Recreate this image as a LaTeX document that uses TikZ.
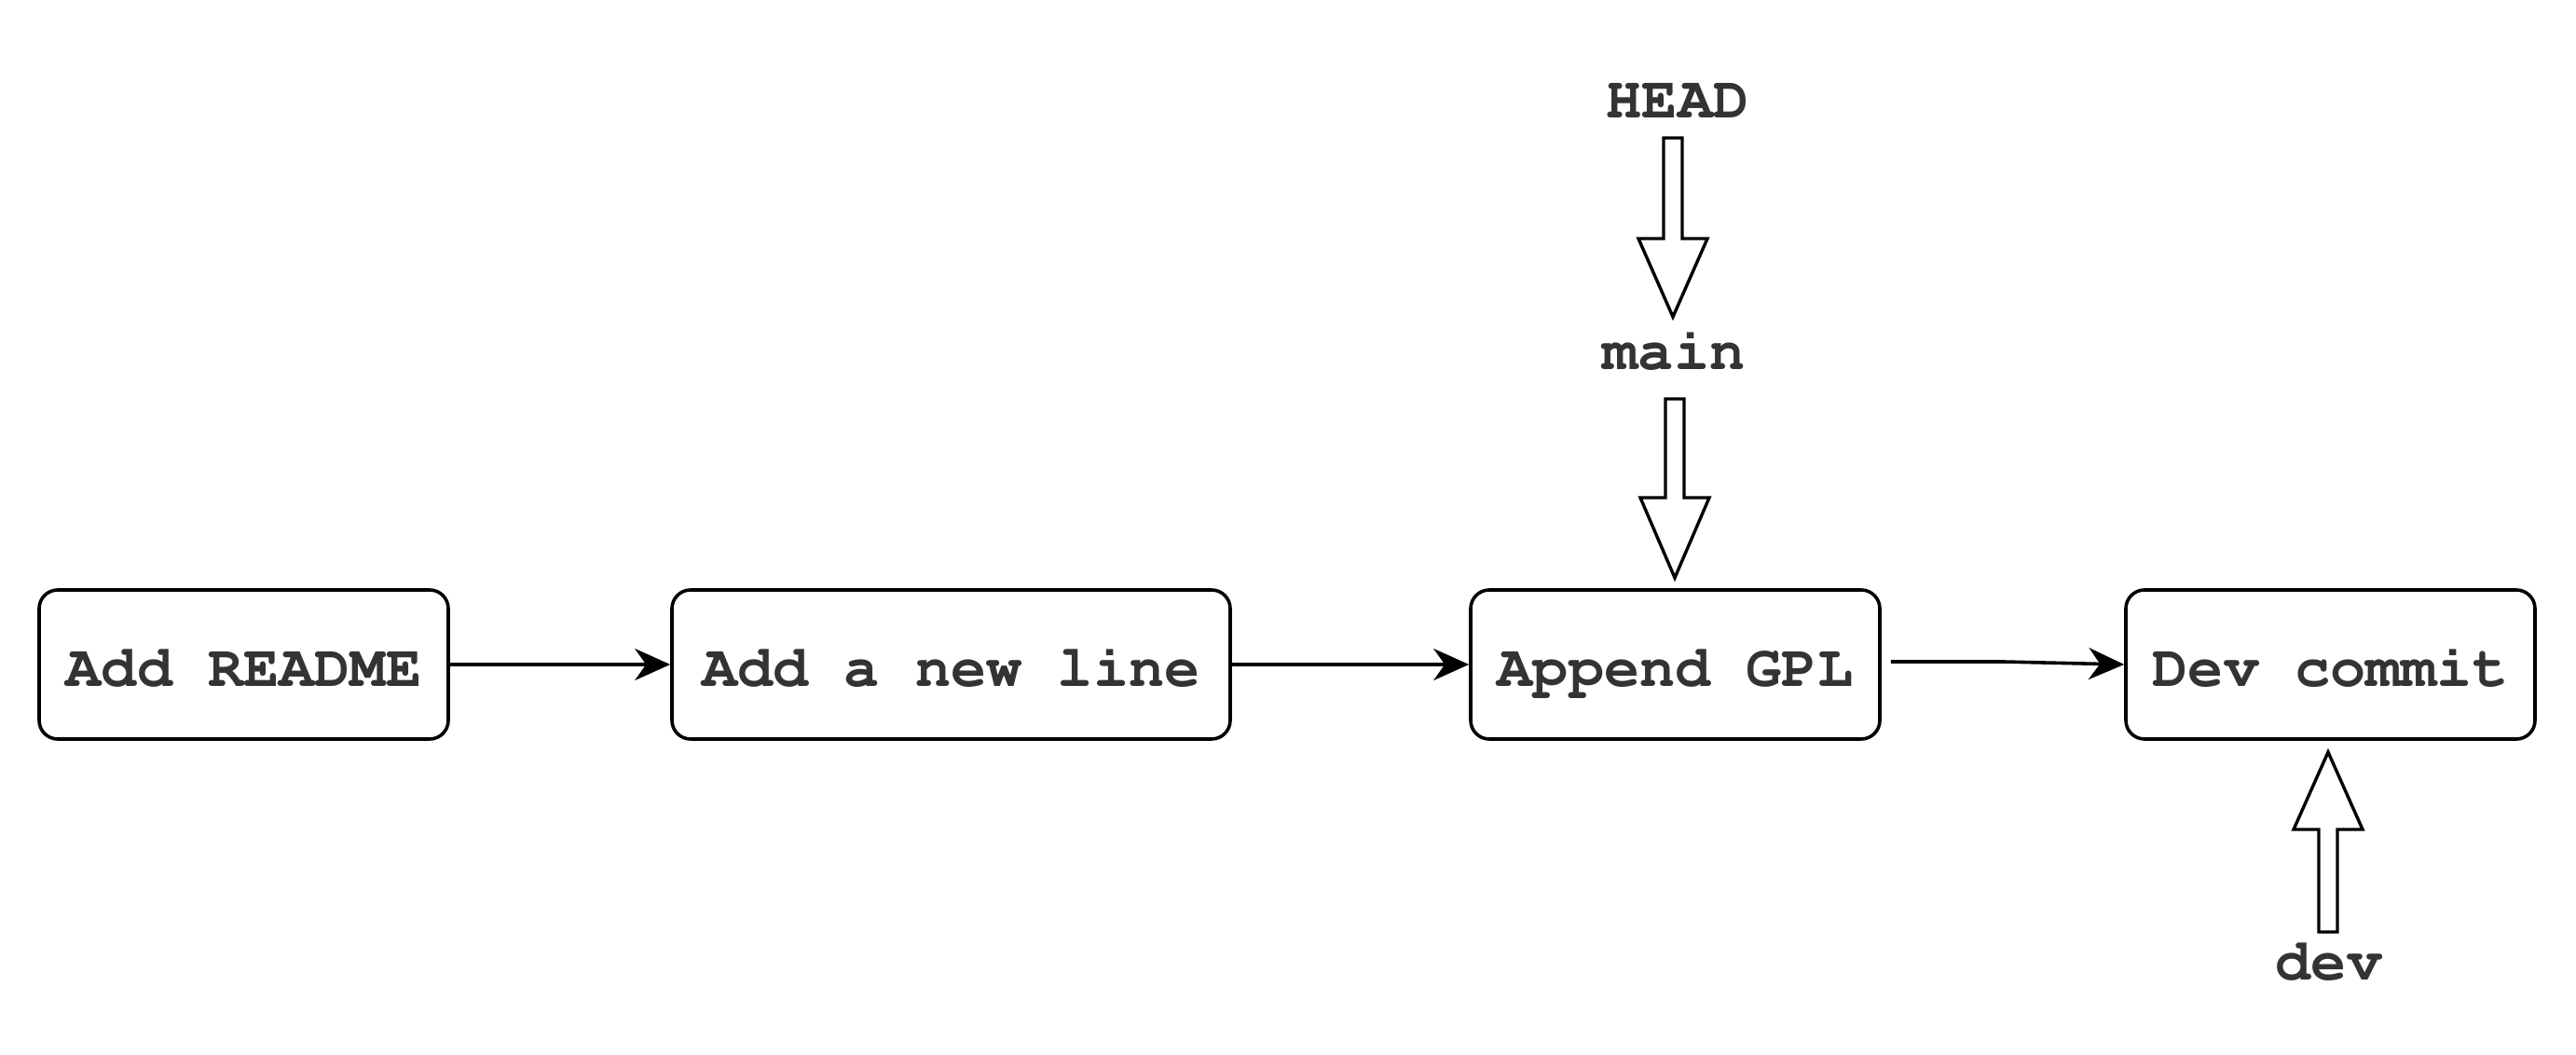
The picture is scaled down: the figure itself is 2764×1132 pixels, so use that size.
\documentclass[tikz,border=0pt]{standalone}
\usepackage[T1]{fontenc}
\usepackage{courier}
\usetikzlibrary{arrows.meta,calc}
\definecolor{txt}{HTML}{333333}
\begin{document}
\begin{tikzpicture}[x=0.25pt,y=-0.25pt,
  commit/.style={draw=black, line width=0.9pt, rounded corners=5pt,
    minimum height=40pt, inner sep=0pt, text=txt, text height=12pt, text depth=0pt,
    font=\ttfamily\bfseries\fontsize{15.9}{18}\selectfont},
  lbl/.style={inner sep=0pt, anchor=base, text=txt,
    font=\ttfamily\bfseries\fontsize{15.9}{18}\selectfont},
  link/.style={line width=0.9pt, -{Stealth[length=9.5pt,width=8.5pt,inset=3pt]}},
  blk/.style={draw=black, line width=0.85pt, fill=white, line join=miter}]
\useasboundingbox (0,0) rectangle (2764,1132);

% commits
\node[commit, minimum width=109.75pt] (c1) at (261.5,713) {Add README};
\node[commit, minimum width=149.75pt] (c2) at (1020.5,713) {Add a new line};
\node[commit, minimum width=109.75pt] (c3) at (1797.5,713) {Append GPL};
\node[commit, minimum width=109.75pt] (c4) at (2500.5,713) {Dev commit};

% labels
\node[lbl] (head) at (1800,127) {HEAD};
\node[lbl] (main) at (1796,397) {main};
\node[lbl] (dev) at (2499,1052) {dev};

% connectors between commits
\draw[link] (c1.east) -- (c2.west);
\draw[link] (c2.east) -- (c3.west);
\draw[link] ($(c3.east)+(10,-3)$) -- ++(120,0) -- (c4.west);

% block arrows (pointers)
\coordinate (a1s) at (1795,148);
\coordinate (a1b) at (1795,256);
\coordinate (a1t) at (1795,340);
\draw[blk] ($(a1s)+(-10,0)$) -- ($(a1s)+(10,0)$) -- ($(a1b)+(10,0)$) -- ($(a1b)+(37,0)$)
  -- (a1t) -- ($(a1b)+(-37,0)$) -- ($(a1b)+(-10,0)$) -- cycle;

\coordinate (a2s) at (1797,428);
\coordinate (a2b) at (1797,534);
\coordinate (a2t) at (1797,620);
\draw[blk] ($(a2s)+(-10,0)$) -- ($(a2s)+(10,0)$) -- ($(a2b)+(10,0)$) -- ($(a2b)+(37,0)$)
  -- (a2t) -- ($(a2b)+(-37,0)$) -- ($(a2b)+(-10,0)$) -- cycle;

\coordinate (a3s) at (2498,1000);
\coordinate (a3b) at (2498,890);
\coordinate (a3t) at (2498,807);
\draw[blk] ($(a3s)+(-10,0)$) -- ($(a3s)+(10,0)$) -- ($(a3b)+(10,0)$) -- ($(a3b)+(37,0)$)
  -- (a3t) -- ($(a3b)+(-37,0)$) -- ($(a3b)+(-10,0)$) -- cycle;
\end{tikzpicture}
\end{document}
